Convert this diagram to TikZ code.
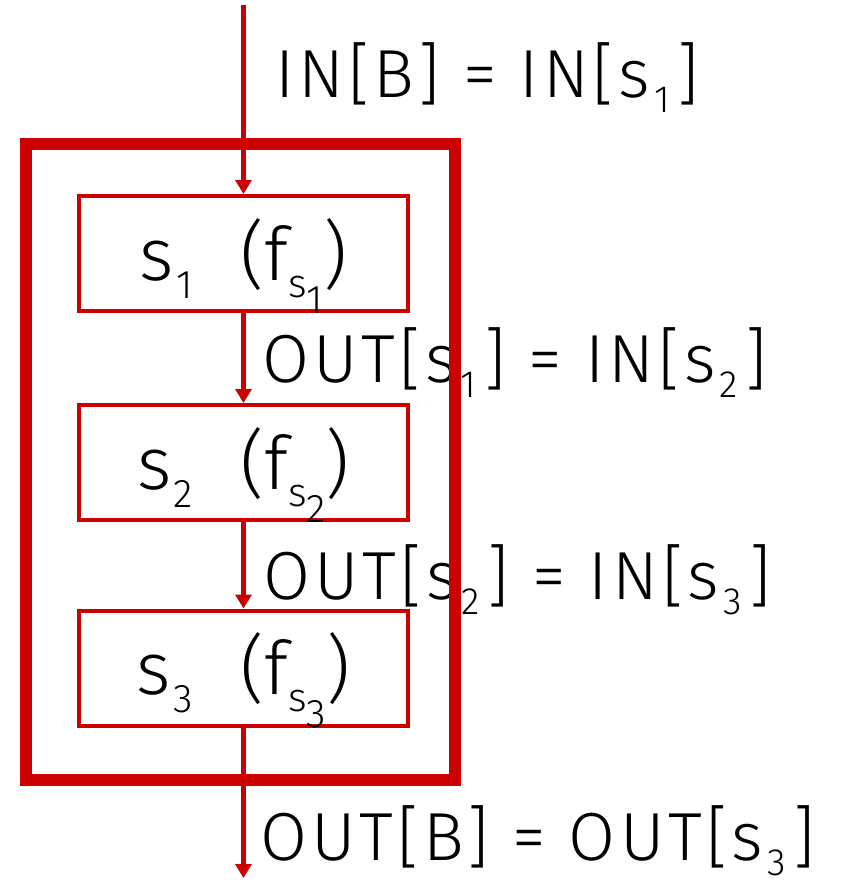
\documentclass[tikz,border=0pt]{standalone}
\usepackage{fontspec}
\setmainfont{Fira Sans Light}
\newfontfamily\eqfont{Fira Sans Light}[LetterSpace=6]
\usetikzlibrary{arrows.meta}
\definecolor{dred}{HTML}{CC0000}
\newcommand{\lo}[3]{\raisebox{-#2}{\fontsize{#1}{#1}\selectfont #3}}
\newcommand{\osub}[1]{\hspace{4pt}\lo{38pt}{15pt}{#1}\hspace{8pt}}
\newcommand{\bsub}[1]{\hspace{2pt}\lo{40pt}{18pt}{#1}}
\begin{document}
\begin{tikzpicture}[x=1pt,y=1pt,
  stbox/.style={draw=dred,line width=4pt,minimum width=329pt,minimum height=115pt,
    inner sep=0pt,text height=53pt,text depth=0pt,font=\fontsize{74pt}{74pt}\selectfont},
  arr/.style={draw=dred,line width=4.5pt,-{Triangle[length=14pt,width=16pt]}},
  eq/.style={anchor=base west,inner sep=0pt,font=\eqfont\fontsize{68pt}{68pt}\selectfont},
  blk/.style={draw=dred,line width=12pt,minimum width=429pt,minimum height=636pt,inner sep=0pt}]
\useasboundingbox (0,0) rectangle (841,-880);
\coordinate (top) at (243.5,-5);
\coordinate (bot) at (243.5,-878);
\node[stbox] (b1) at (243.5,-253.5) {s\bsub{1}\hspace{48pt}(f\lo{40pt}{17pt}{s\lo{40pt}{16pt}{1}})};
\node[stbox] (b2) at (243.5,-462.5) {s\bsub{2}\hspace{48pt}(f\lo{40pt}{17pt}{s\lo{40pt}{16pt}{2}})};
\node[stbox] (b3) at (243.5,-668) {s\bsub{3}\hspace{48pt}(f\lo{40pt}{17pt}{s\lo{40pt}{16pt}{3}})};
\draw[arr] (top) -- (b1.north);
\draw[arr] (b1.south) -- (b2.north);
\draw[arr] (b2.south) -- (b3.north);
\draw[arr] (b3.south) -- (bot);
\node[eq] (l0) at (275,-98) {IN[B] = IN[s\osub{1}]};
\node[eq] (l1) at (262,-382) {OUT[s\osub{1}] = IN[s\osub{2}]};
\node[eq] (l2) at (263,-599) {OUT[s\osub{2}] = IN[s\osub{3}]};
\node[eq] (l3) at (260,-860) {OUT[B] = OUT[s\osub{3}]};
\node[blk] (blk) at (240.5,-462) {};
\end{tikzpicture}
\end{document}
